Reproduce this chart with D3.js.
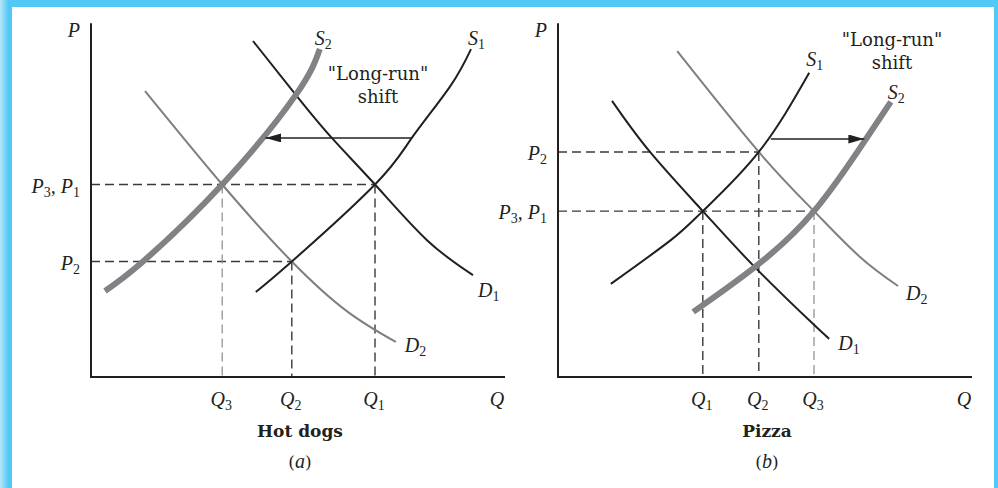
<!DOCTYPE html>
<html>
<head>
<meta charset="utf-8">
<script src="https://cdn.jsdelivr.net/npm/d3@7"></script>
<style>
  body { margin: 0; background: #fff; }
  svg text { font-family: "DejaVu Serif", serif; fill: #231f20; }
  svg text.math { font-family: "Liberation Serif", serif; }
</style>
</head>
<body>
<div id="chart"></div>
<script>
// ---- data (Q, P in axis units 0..100) ----
// (a) hot dogs
var hotDogS1 = [[41.2,24.3],[50.2,33],[71,55],[80.2,68.3],[89.7,82.9],[95,93.7]];
var hotDogS2 = [[3.5,24.6],[13,33],[32.8,55],[51.2,80.6],[57.2,93.7]];
var hotDogD1 = [[40.5,96],[51.2,80.6],[60.2,68.3],[71,55],[84,39.1],[95.5,29.1]];
var hotDogD2 = [[13.5,81.7],[32.8,55],[50.2,33],[64.2,18.6],[76.2,10]];
var hotDogPrices = [55, 33];
var hotDogPriceLabels = ["P_3, P_1", "P_2"];
var hotDogPriceReach = [71, 50.2];           // how far each price line runs
var hotDogQuantities = [32.8, 50.2, 71];
var hotDogQuantityLabels = ["Q_3", "Q_2", "Q_1"];
var hotDogQuantityFrom = [55, 33, 55];       // price each drop line starts at
var hotDogShift = [[80.2,68.3],[43.6,68.3]];

// (b) pizza
var pizzaS1 = [[13.2,26.6],[28.2,39.1],[36.2,47.4],[50.2,64.3],[62.8,86.9]];
var pizzaS2 = [[33.8,18.6],[49.2,31.4],[64,47.4],[77,68],[83.2,78.6]];
var pizzaD1 = [[13.5,78.9],[23,64.3],[36.2,47.4],[49.2,31.4],[64,14.9],[67.8,10.9]];
var pizzaD2 = [[29.8,93.1],[50.2,64.3],[64,47.4],[75.5,34.3],[85,26]];
var pizzaPrices = [64.3, 47.4];
var pizzaPriceLabels = ["P_2", "P_3, P_1"];
var pizzaPriceReach = [50.2, 64];
var pizzaQuantities = [36.2, 50.2, 64];
var pizzaQuantityLabels = ["Q_1", "Q_2", "Q_3"];
var pizzaQuantityFrom = [47.4, 64.3, 47.4];
var pizzaShift = [[53.2,68],[76.6,68]];

var w = 998, h = 488;

var svg = d3.select("#chart").append("svg")
    .attr("width", w).attr("height", h);

var defs = svg.append("defs");
var grad = defs.append("linearGradient").attr("id", "edge")
    .attr("x1", 0).attr("x2", 1).attr("y1", 0).attr("y2", 0);
grad.append("stop").attr("offset", "0%").attr("stop-color", "#b5e6fa");
grad.append("stop").attr("offset", "70%").attr("stop-color", "#52c8f5");
defs.append("marker").attr("id", "head")
    .attr("viewBox", "0 0 16 9").attr("refX", 16).attr("refY", 4.5)
    .attr("markerWidth", 16).attr("markerHeight", 9)
    .attr("markerUnits", "userSpaceOnUse").attr("orient", "auto")
  .append("path").attr("d", "M0,0 L16,4.5 L0,9 Z").attr("fill", "#231f20");

// blue frame
svg.append("rect").attr("x", 0).attr("y", 0).attr("width", w).attr("height", h).attr("fill", "#52c8f5");
svg.append("rect").attr("x", 0).attr("y", 0).attr("width", 12).attr("height", h).attr("fill", "url(#edge)");
svg.append("rect").attr("x", 12).attr("y", 7).attr("width", 982).attr("height", h).attr("fill", "#fff");

// write "P_3, P_1" style labels with subscripts
function mathText(g, str, x, y, anchor) {
    var t = g.append("text").attr("class", "math").attr("x", x).attr("y", y)
        .attr("text-anchor", anchor).style("font-size", "20px").style("font-style", "italic");
    var parts = str.split(/_(\d)/);
    var sub = false;
    parts.forEach(function(p, i) {
        if (p === "") { return; }
        var s = t.append("tspan").text(p);
        if (i % 2 == 1) {
            s.attr("dy", 4).style("font-size", "14px").style("font-style", "normal");
            sub = true;
        } else if (sub) {
            s.attr("dy", -4);
            sub = false;
        }
    });
    return t;
}

function drawPanel(cfg) {
    var x = d3.scaleLinear().domain([0, 100]).range([cfg.x0, cfg.x0 + 400]);
    var y = d3.scaleLinear().domain([0, 100]).range([377, 27]);
    var g = svg.append("g");
    var line = d3.line()
        .x(function(d){ return x(d[0]); })
        .y(function(d){ return y(d[1]); })
        .curve(d3.curveNatural);

    // dashed price lines
    cfg.prices.forEach(function(p, i) {
        g.append("line")
            .attr("x1", x(0)).attr("x2", x(cfg.priceReach[i]))
            .attr("y1", y(p)).attr("y2", y(p))
            .attr("stroke", "#3a3a3a").attr("stroke-width", 1.4)
            .attr("stroke-dasharray", "9,5");
        mathText(g, cfg.priceLabels[i], x(0) - 11, y(p) + 8, "end");
    });
    // dashed quantity drops
    cfg.quantities.forEach(function(q, i) {
        var light = i == cfg.lightDrop;
        g.append("line")
            .attr("x1", x(q)).attr("x2", x(q))
            .attr("y1", y(cfg.quantityFrom[i])).attr("y2", y(0))
            .attr("stroke", light ? "#8a8a8a" : "#3a3a3a")
            .attr("stroke-width", light ? 1.2 : 1.4)
            .attr("stroke-dasharray", "9,5");
        mathText(g, cfg.quantityLabels[i], x(q) - 1, 406, "middle");
    });

    // axes
    g.append("path")
        .attr("d", d3.line()([[x(0), y(101.1)], [x(0), y(0)], [x(103.5), y(0)]]))
        .attr("fill", "none").attr("stroke", "#231f20").attr("stroke-width", 2);
    mathText(g, "P", x(0) - 11, 37, "end");
    mathText(g, "Q", x(101.5), 406, "middle");

    // curves
    cfg.curves.forEach(function(c) {
        g.append("path").datum(c.data)
            .attr("d", line)
            .attr("fill", "none")
            .attr("stroke", c.color)
            .attr("stroke-width", c.width);
        var end = c.data[c.data.length - 1];
        mathText(g, c.label, x(end[0]) + c.dx, y(end[1]) + c.dy, "start");
    });

    // long-run shift arrow
    g.append("line")
        .attr("x1", x(cfg.shift[0][0])).attr("y1", y(cfg.shift[0][1]))
        .attr("x2", x(cfg.shift[1][0])).attr("y2", y(cfg.shift[1][1]))
        .attr("stroke", "#231f20").attr("stroke-width", 1.5)
        .attr("marker-end", "url(#head)");
    g.append("text").attr("x", cfg.noteX).attr("y", cfg.noteY)
        .attr("text-anchor", "middle").style("font-size", "18px").text('"Long-run"');
    g.append("text").attr("x", cfg.noteX).attr("y", cfg.noteY + 23)
        .attr("text-anchor", "middle").style("font-size", "18px").text("shift");

    // titles
    g.append("text").attr("x", cfg.x0 + 209).attr("y", 437)
        .attr("text-anchor", "middle").style("font-size", "17px").style("font-weight", "bold")
        .text(cfg.title);
    var cap = g.append("text").attr("x", cfg.x0 + 209).attr("y", 468)
        .attr("text-anchor", "middle").style("font-size", "17px");
    cap.append("tspan").text("(");
    cap.append("tspan").style("font-family", "Liberation Serif")
        .style("font-size", "20px").style("font-style", "italic").text(cfg.tag);
    cap.append("tspan").text(")");
}

var dark = "#231f20", grey = "#7f7f7f", thick = "#808285";

drawPanel({
    x0: 91, title: "Hot dogs", tag: "a",
    prices: hotDogPrices, priceLabels: hotDogPriceLabels, priceReach: hotDogPriceReach,
    quantities: hotDogQuantities, quantityLabels: hotDogQuantityLabels,
    quantityFrom: hotDogQuantityFrom, lightDrop: 0,
    shift: hotDogShift, noteX: 378, noteY: 80,
    curves: [
        {data: hotDogD2, color: grey, width: 2, label: "D_2", dx: 9, dy: 10},
        {data: hotDogD1, color: dark, width: 2, label: "D_1", dx: 5, dy: 22},
        {data: hotDogS1, color: dark, width: 2, label: "S_1", dx: -3, dy: -4},
        {data: hotDogS2, color: thick, width: 6, label: "S_2", dx: -5, dy: -4}
    ]
});

drawPanel({
    x0: 558, title: "Pizza", tag: "b",
    prices: pizzaPrices, priceLabels: pizzaPriceLabels, priceReach: pizzaPriceReach,
    quantities: pizzaQuantities, quantityLabels: pizzaQuantityLabels,
    quantityFrom: pizzaQuantityFrom, lightDrop: 2,
    shift: pizzaShift, noteX: 892, noteY: 46,
    curves: [
        {data: pizzaD2, color: grey, width: 2, label: "D_2", dx: 8, dy: 14},
        {data: pizzaD1, color: dark, width: 2, label: "D_1", dx: 9, dy: 11},
        {data: pizzaS1, color: dark, width: 2, label: "S_1", dx: -3, dy: -7},
        {data: pizzaS2, color: thick, width: 6, label: "S_2", dx: -3, dy: -3}
    ]
});
</script>
</body>
</html>
